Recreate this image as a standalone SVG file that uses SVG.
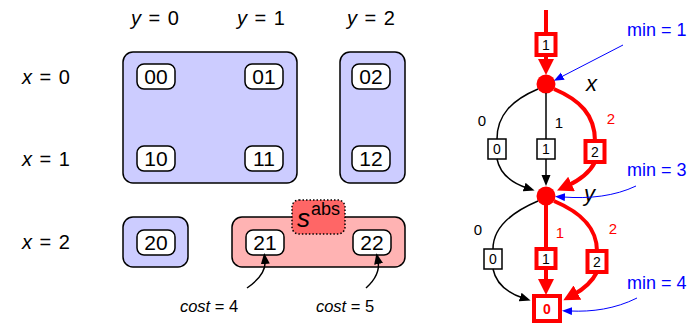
<svg xmlns="http://www.w3.org/2000/svg" width="700" height="325" viewBox="0 0 700 325">
<defs>
<style>
text{font-family:"Liberation Sans",Arial,sans-serif;}
.hdr{font-size:20px;text-anchor:middle;word-spacing:2px;}
.grp{fill:#ccccff;stroke:#000;stroke-width:1.5;}
.pink{fill:#ffb3b3;stroke:#000;stroke-width:1.5;}
.st{fill:#fff;stroke:#000;stroke-width:1.5;}
.stl{font-size:21px;text-anchor:middle;}
.bx{fill:#fff;stroke:#000;stroke-width:1.5;}
.rbx{fill:#fff;stroke:#ff0000;stroke-width:4;}
.bl{font-size:14px;text-anchor:middle;}
.el{font-size:15px;text-anchor:middle;}
.red{fill:#ff0000;}
.blk{fill:none;stroke:#000;stroke-width:1.5;}
.rl{fill:none;stroke:#ff0000;stroke-width:4;}
.bll{fill:none;stroke:#0000ff;stroke-width:1;}
.min{font-size:18px;fill:#0000ff;}
.cost{font-size:16.5px;text-anchor:middle;}
</style>
<marker id="ab" markerUnits="userSpaceOnUse" markerWidth="12" markerHeight="10" refX="3" refY="4.5" orient="auto"><path d="M0,0 L11,4.5 L0,9 Z" fill="#000"/></marker>
<marker id="ar" markerUnits="userSpaceOnUse" markerWidth="18" markerHeight="18" refX="5" refY="8" orient="auto"><path d="M0,0 L16,8 L0,16 Z" fill="#ff0000"/></marker>
<marker id="au" markerUnits="userSpaceOnUse" markerWidth="12" markerHeight="10" refX="2" refY="4" orient="auto"><path d="M0,0 L10,4 L0,8 Z" fill="#0000ff"/></marker>
</defs>
<g id="headers">
<text class="hdr" x="155" y="25"><tspan font-style="italic">y</tspan> = 0</text>
<text class="hdr" x="261" y="25"><tspan font-style="italic">y</tspan> = 1</text>
<text class="hdr" x="371" y="25"><tspan font-style="italic">y</tspan> = 2</text>
<text class="hdr" x="46" y="84"><tspan font-style="italic">x</tspan> = 0</text>
<text class="hdr" x="46" y="166"><tspan font-style="italic">x</tspan> = 1</text>
<text class="hdr" x="46" y="249"><tspan font-style="italic">x</tspan> = 2</text>
</g>
<g id="group-a"><rect class="grp" x="123" y="52" width="174" height="131" rx="10"/></g>
<g id="group-b"><rect class="grp" x="340" y="52" width="65" height="131" rx="10"/></g>
<g id="group-c"><rect class="grp" x="123" y="217" width="65" height="50" rx="10"/></g>
<g id="group-d"><rect class="pink" x="232" y="217" width="173" height="50" rx="10"/></g>
<g id="sabs"><rect x="292" y="200" width="53" height="34" rx="7" fill="#ff6666" stroke="#000" stroke-width="1.5" stroke-dasharray="1.5,2"/>
<text x="297" y="227" font-size="26" font-style="italic">s</text><text x="311" y="215" font-size="18">abs</text></g>
<g id="s00"><rect class="st" x="137" y="64" width="38" height="25" rx="7"/><text class="stl" x="156" y="84">00</text></g>
<g id="s01"><rect class="st" x="245" y="64" width="38" height="25" rx="7"/><text class="stl" x="264" y="84">01</text></g>
<g id="s02"><rect class="st" x="352" y="64" width="38" height="25" rx="7"/><text class="stl" x="371" y="84">02</text></g>
<g id="s10"><rect class="st" x="137" y="146" width="38" height="25" rx="7"/><text class="stl" x="156" y="166">10</text></g>
<g id="s11"><rect class="st" x="245" y="146" width="38" height="25" rx="7"/><text class="stl" x="264" y="166">11</text></g>
<g id="s12"><rect class="st" x="352" y="146" width="38" height="25" rx="7"/><text class="stl" x="371" y="166">12</text></g>
<g id="s20"><rect class="st" x="137" y="230" width="38" height="25" rx="7"/><text class="stl" x="156" y="250">20</text></g>
<g id="s21"><rect class="st" x="246" y="230" width="38" height="25" rx="7"/><text class="stl" x="265" y="250">21</text></g>
<g id="s22"><rect class="st" x="353" y="230" width="38" height="25" rx="7"/><text class="stl" x="372" y="250">22</text></g>
<g id="cost4"><text class="cost" x="209" y="312"><tspan font-style="italic">cost</tspan> = 4</text></g>
<g id="cost5"><text class="cost" x="345" y="312"><tspan font-style="italic">cost</tspan> = 5</text></g>
<g id="node-x"><circle cx="546" cy="84" r="9.5" fill="#ff0000"/><text x="586" y="91" font-size="22" font-style="italic">x</text></g>
<g id="node-y"><circle cx="546" cy="196" r="9.5" fill="#ff0000"/><text x="584" y="201" font-size="22" font-style="italic">y</text></g>
<g id="b-top"><rect class="rbx" x="536.5" y="34" width="19" height="21"/><text class="bl" x="546" y="50">1</text></g>
<g id="b-x0"><rect class="bx" x="488" y="139" width="18" height="20"/><text class="bl" x="497" y="154">0</text></g>
<g id="b-x1"><rect class="bx" x="537" y="139" width="18" height="20"/><text class="bl" x="546" y="154">1</text></g>
<g id="b-x2"><rect class="rbx" x="585.5" y="141" width="19" height="21"/><text class="bl" x="595" y="157">2</text></g>
<g id="b-y0"><rect class="bx" x="484" y="249" width="18" height="20"/><text class="bl" x="493" y="264">0</text></g>
<g id="b-y1"><rect class="rbx" x="536.5" y="249" width="19" height="19"/><text class="bl" x="546" y="264">1</text></g>
<g id="b-y2"><rect class="rbx" x="587.5" y="251" width="19" height="21"/><text class="bl" x="597" y="267">2</text></g>
<g id="b-final"><rect class="rbx" x="534" y="296" width="26" height="25"/><text x="547" y="314" font-size="14" font-weight="bold" text-anchor="middle" class="red">0</text></g>
<g id="edge-labels">
<text class="el" x="482" y="126">0</text>
<text class="el" x="559" y="128">1</text>
<text class="el red" x="611" y="124">2</text>
<text class="el" x="478" y="235">0</text>
<text class="el red" x="560" y="238">1</text>
<text class="el red" x="613" y="234">2</text>
</g>
<g id="min-labels">
<text class="min" x="627" y="36">min = 1</text>
<text class="min" x="627" y="176">min = 3</text>
<text class="min" x="627" y="289">min = 4</text>
</g>
<g id="connectors">
<path class="blk" d="M247,288 C260,279 266,271 265,261" marker-end="url(#ab)"/>
<path class="blk" d="M366,288 C376,279 380,271 378,261" marker-end="url(#ab)"/>
<path class="rl" d="M546,10 L546,34"/>
<path class="rl" d="M546,55 L546,64" marker-end="url(#ar)"/>
<path class="blk" d="M538,89 C512,100 497,115 497,139"/>
<path class="blk" d="M546,93 L546,139"/>
<path class="rl" d="M554,89 C580,100 595,115 595,141"/>
<path class="blk" d="M497,159 C500,174 512,183 527,188" marker-end="url(#ab)"/>
<path class="blk" d="M546,159 L546,178" marker-end="url(#ab)"/>
<path class="rl" d="M595,162 C590,172 580,180 567,186" marker-end="url(#ar)"/>
<path class="blk" d="M538,201 C512,212 493,227 493,249"/>
<path class="rl" d="M546,205 L546,249"/>
<path class="rl" d="M554,201 C580,212 597,227 597,251"/>
<path class="blk" d="M493,269 C496,284 508,293 523,298" marker-end="url(#ab)"/>
<path class="rl" d="M546,268 L546,284" marker-end="url(#ar)"/>
<path class="rl" d="M597,272 C592,282 584,289 573,295" marker-end="url(#ar)"/>
<path class="bll" d="M623,45 L561,77" marker-end="url(#au)"/>
<path class="bll" d="M636,186 C615,196 590,199 563,197" marker-end="url(#au)"/>
<path class="bll" d="M637,298 C615,309 592,312 570,311" marker-end="url(#au)"/>
</g>
</svg>
